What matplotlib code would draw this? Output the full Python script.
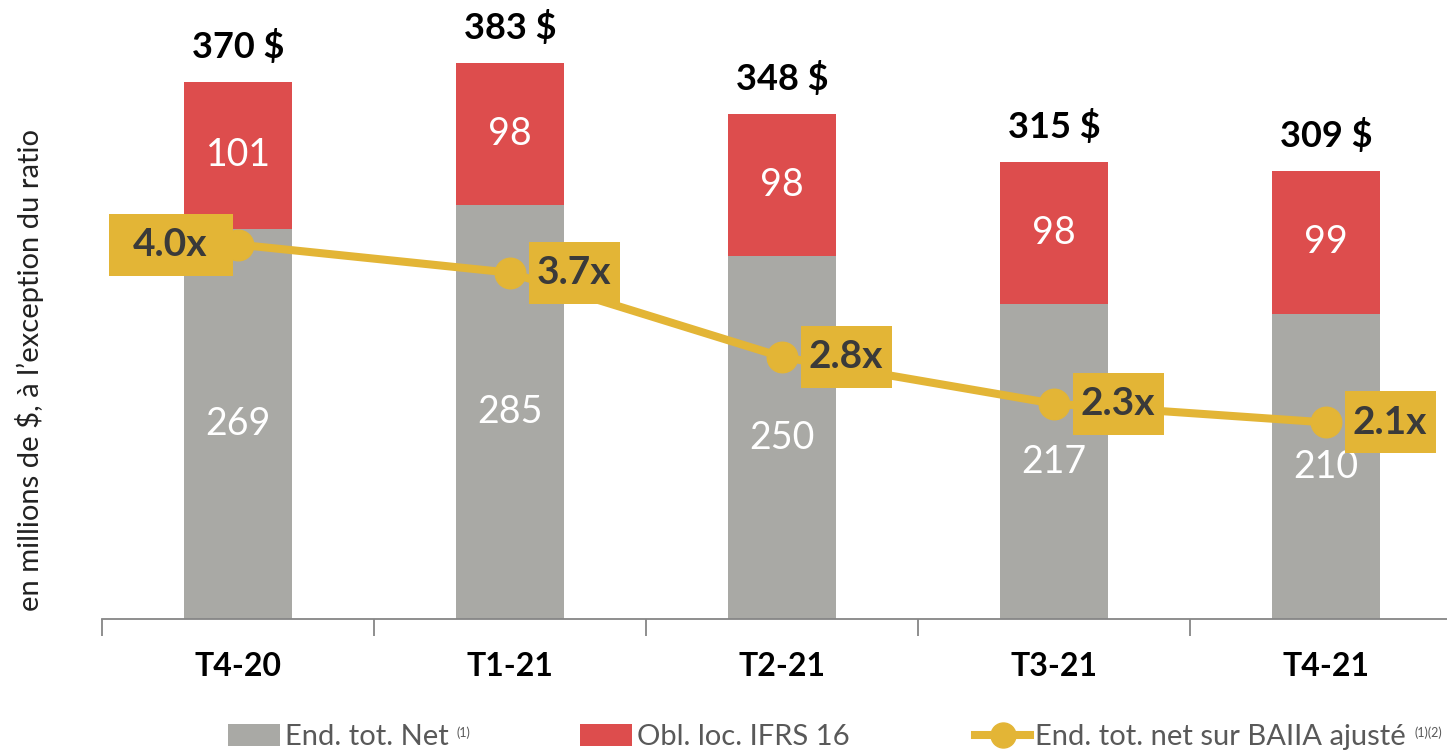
import matplotlib
matplotlib.use('Agg')
import matplotlib.pyplot as plt
from matplotlib.patches import Patch, Rectangle
from matplotlib.lines import Line2D
from matplotlib.transforms import IdentityTransform, ScaledTranslation

plt.rcParams['font.family'] = ['Lato', 'DejaVu Sans']

quarters = ['T4-20', 'T1-21', 'T2-21', 'T3-21', 'T4-21']
net_debt = [269, 285, 250, 217, 210]
lease_oblig = [101, 98, 98, 98, 99]
totals = [370, 383, 348, 315, 309]
ratio = [4.0, 3.7, 2.8, 2.3, 2.1]

legend_labels = ['End. tot. Net', 'Obl. loc. IFRS 16', 'End. tot. net sur BAIIA ajusté']
legend_notes = ['(1)', '', '(1)(2)']

GRAY = '#A9A9A5'
RED = '#DD4D4D'
GOLD = '#E3B536'
DARK = '#3A3A3A'

fig = plt.figure(figsize=(14.47, 7.51), dpi=100)
ax = fig.add_axes((102 / 1447, 1 - 619 / 751, 1 - 102 / 1447, 619 / 751))
x = list(range(len(quarters)))

ax.bar(x, net_debt, width=0.4, color=GRAY, zorder=2)
ax.bar(x, lease_oblig, width=0.4, bottom=net_debt, color=RED, zorder=2)

for i in x:
    ax.text(i, net_debt[i] / 2, str(net_debt[i]), ha='center', va='center',
            color='white', fontsize=27, zorder=3)
    ax.text(i, net_debt[i] + lease_oblig[i] / 2, str(lease_oblig[i]),
            ha='center', va='center', color='white', fontsize=27, zorder=3)
    ax.annotate(f'{totals[i]} $', (i, totals[i]), xytext=(0, 18),
                textcoords='offset pixels', ha='center', va='bottom',
                fontsize=26, fontweight='bold', color='black')

ax.set_ylim(0, 426.5)
ax.set_yticks([])
for s in ['top', 'right', 'left']:
    ax.spines[s].set_visible(False)
ax.spines['bottom'].set_color('#868686')
ax.spines['bottom'].set_linewidth(1.3)
ax.set_xticks(x)
ax.set_xticklabels(quarters, fontsize=23, fontweight='bold')
ax.tick_params(axis='x', which='major', length=0, pad=24)
ax.set_xticks([i - 0.5 for i in range(len(quarters) + 1)], minor=True)
ax.tick_params(axis='x', which='minor', length=12, width=1.3, color='#868686')

ax2 = ax.twinx()
ax2.plot(x, ratio, color=GOLD, lw=5.8, marker='o', markersize=22,
         solid_capstyle='round', zorder=3)
ax2.set_ylim(0, 619 / 93.6)
ax2.axis('off')
ax.set_xlim(-0.5, -0.5 + 1345 / 272)

# label boxes, offsets in pixels from the marker
for i in x:
    if i == 0:
        bx0, bx1, tx = -129, -5, -68
    else:
        bx0, bx1, tx = 19, 110, 64
    tr = IdentityTransform() + ScaledTranslation(i, ratio[i], ax2.transData)
    ax2.add_patch(Rectangle((bx0, -31), bx1 - bx0, 62, transform=tr,
                            facecolor=GOLD, edgecolor='none', zorder=4))
    ax2.annotate(f'{ratio[i]:.1f}x', (i, ratio[i]), xytext=(tx, 0),
                 textcoords='offset pixels', ha='center', va='center',
                 fontsize=28, fontweight='bold', color=DARK, zorder=5)

fig.text(30 / 1447, 1 - 370 / 751, 'en millions de $, à l\u2019exception du ratio',
         rotation=90, ha='center', va='center', fontsize=21, color='#222222')

# legend: one entry per legend so each can sit where the reference has it
handles = [
    Patch(facecolor=GRAY),
    Patch(facecolor=RED),
    Line2D([0], [0], color=GOLD, lw=5.8, marker='o', markersize=18),
]
leg_x = [228, 580, 975]
hlen = [1.78, 1.78, 1.9]
legs = []
for h, lab, lx, hl in zip(handles, legend_labels, leg_x, hlen):
    lg = fig.legend([h], [lab], loc='center left',
                    bbox_to_anchor=(lx / 1447, 1 - 737 / 751),
                    frameon=False, fontsize=21, handlelength=hl,
                    handleheight=0.75, handletextpad=0.17, borderaxespad=0,
                    borderpad=0)
    lg.get_texts()[0].set_color('#595959')
    legs.append(lg)

fig.canvas.draw()
r = fig.canvas.get_renderer()
for lg, note in zip(legs, legend_notes):
    if not note:
        continue
    bb = lg.get_texts()[0].get_window_extent(r)
    fig.text((bb.x1 + 8) / 1447, (bb.y1 - 2) / 751, note, ha='left', va='top',
             fontsize=9, color='#595959')

fig.savefig('out.png', dpi=100)
